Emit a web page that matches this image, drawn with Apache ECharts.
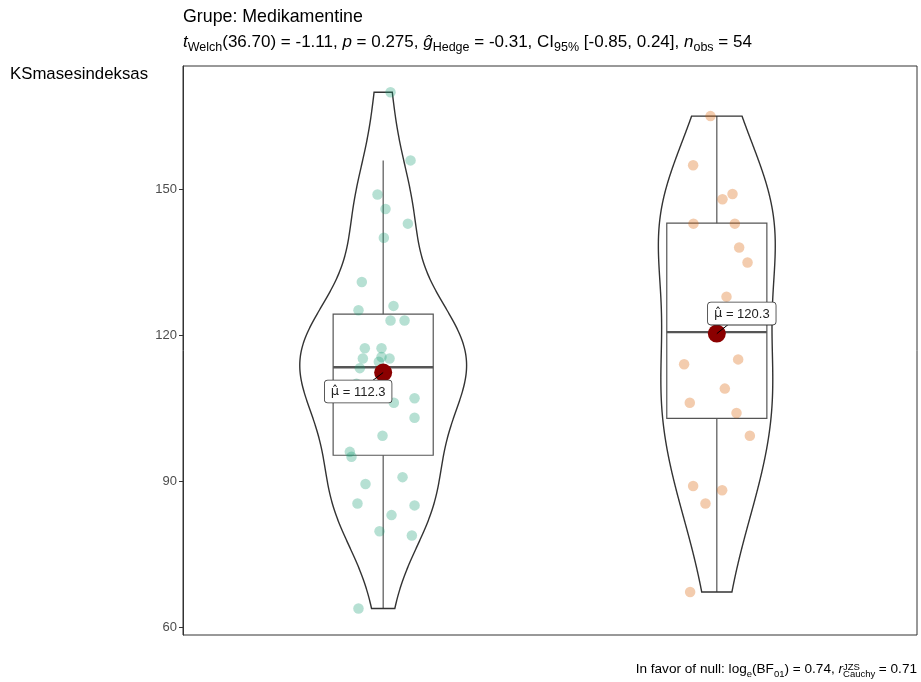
<!DOCTYPE html>
<html>
<head>
<meta charset="utf-8">
<script src="https://cdn.jsdelivr.net/npm/echarts@6/dist/echarts.min.js"></script>
<style>
html, body { margin: 0; padding: 0; background: #fff; }
#chart { width: 921px; height: 682px; }
</style>
</head>
<body>
<div id="chart"></div>
<script>
// group positions on the (unlabelled) x axis
const groupPos = [1, 2];

// group 1 (green): values and horizontal jitter
const g1Values = [169.9, 155.9, 148.9, 145.9, 142.9, 140.0, 130.9, 126.0, 125.1, 123.0, 123.0,
  117.3, 117.3, 115.5, 115.2, 115.2, 114.5, 113.2, 110.0, 108.8, 107.0, 106.1, 103.0, 99.3,
  96.0, 95.0, 90.8, 89.4, 85.4, 85.0, 83.0, 79.7, 78.8, 63.8];
const g1Jitter = [0.022, 0.082, -0.017, 0.007, 0.074, 0.002, -0.064, 0.031, -0.074, 0.022, 0.064,
  -0.055, -0.005, -0.005, -0.061, 0.019, -0.013, -0.070, -0.080, -0.040, 0.094, 0.032, 0.094, -0.002,
  -0.100, -0.095, 0.058, -0.053, -0.077, 0.094, 0.025, -0.011, 0.086, -0.074];

// group 2 (orange)
const g2Values = [165.0, 154.9, 149.0, 147.9, 142.9, 142.9, 138.0, 134.9, 127.9, 125.0,
  115.0, 114.0, 109.0, 106.1, 104.0, 99.3, 89.0, 88.1, 85.4, 67.2];
const g2Jitter = [-0.019, -0.071, 0.047, 0.017, -0.070, 0.054, 0.067, 0.092, 0.029, 0.084,
  0.064, -0.098, 0.024, -0.081, 0.059, 0.099, -0.071, 0.016, -0.034, -0.080];

// box stats: [lower whisker, Q1, median, Q3, upper whisker]
const boxStats = [
  [63.8, 95.3, 113.4, 124.3, 155.9],
  [67.2, 102.9, 120.6, 143.0, 165.0]
];
const means = [112.3, 120.3];
const yTicks = [60, 90, 120, 150];

const FONT = 'Liberation Sans, Arial, sans-serif';
const pointColors = ['rgba(27,158,119,0.4)', 'rgba(217,95,2,0.4)'];

// 小提琴密度 (gaussian, bw.nrd0, trimmed)
function quantile(s, p) {
  const h = (s.length - 1) * p, lo = Math.floor(h);
  const hi = Math.min(lo + 1, s.length - 1);
  return s[lo] + (h - lo) * (s[hi] - s[lo]);
}
function kde(vals) {
  const s = vals.slice().sort((a, b) => a - b), n = s.length;
  const mean = s.reduce((a, b) => a + b, 0) / n;
  const sd = Math.sqrt(s.reduce((a, b) => a + (b - mean) * (b - mean), 0) / (n - 1));
  const iqr = quantile(s, 0.75) - quantile(s, 0.25);
  const bw = 0.9 * Math.min(sd, iqr / 1.34) * Math.pow(n, -0.2);
  const ys = [], ds = [];
  for (let k = 0; k < 512; k++) {
    const y = s[0] + (s[n - 1] - s[0]) * k / 511;
    let d = 0;
    for (const v of s) { const z = (y - v) / bw; d += Math.exp(-0.5 * z * z); }
    ys.push(y);
    ds.push(d / (n * bw * Math.sqrt(2 * Math.PI)));
  }
  return { ys, ds };
}
const dens = [kde(g1Values), kde(g2Values)];
const maxDens = Math.max(...dens.map(d => Math.max(...d.ds)));

const myChart = echarts.init(document.getElementById('chart'));

const capN = { fontSize: 13.6, fontFamily: FONT, fill: '#000', lineHeight: 20 };

const option = {
  animation: false,
  grid: {
    left: 183, right: 4, top: 66, bottom: 47,
    show: true, borderColor: '#333', borderWidth: 1, backgroundColor: 'transparent'
  },
  xAxis: {
    type: 'value', min: 0.4, max: 2.6,
    axisLine: { show: false }, axisTick: { show: false },
    axisLabel: { show: false }, splitLine: { show: false }
  },
  yAxis: {
    type: 'value', min: 58.36, max: 175.3,
    axisLine: { show: true, lineStyle: { color: '#333', width: 1 } },
    axisTick: { show: true, customValues: yTicks, length: 4, lineStyle: { color: '#333' } },
    axisLabel: { customValues: yTicks, color: '#4d4d4d', fontSize: 13, fontFamily: FONT, margin: 6 },
    splitLine: { show: false }
  },
  graphic: [
    { type: 'text', left: 183, top: 8,
      style: { text: 'Grupe: Medikamentine', font: '17.8px ' + FONT, fill: '#000' } },
    { type: 'text', left: 183, top: 34,
      style: {
        text: '{i|t}{s|Welch}{n|(36.70) = -1.11, }{i|p}{n| = 0.275, }{i|ĝ}{s|Hedge}{n| = -0.31, CI}{s|95%}{n| [-0.85, 0.24], }{i|n}{s|obs}{n| = 54}',
        rich: {
          n: { fontSize: 17, fontFamily: FONT, fill: '#000', lineHeight: 24 },
          i: { fontSize: 17, fontFamily: FONT, fontStyle: 'italic', fill: '#000', lineHeight: 24 },
          s: { fontSize: 12.5, fontFamily: FONT, fill: '#000', lineHeight: 13, verticalAlign: 'bottom' }
        }
      } },
    { type: 'text', left: 10, top: 66,
      style: { text: 'KSmasesindeksas', font: '16.8px ' + FONT, fill: '#000' } },
    { type: 'text', right: 4, top: 662,
      style: {
        text: '{n|In favor of null: log}{s|e}{n|(BF}{s|01}{n|) = 0.74, }{i|r}{c|Cauchy}{n| = 0.71}',
        rich: {
          n: capN,
          i: Object.assign({}, capN, { fontStyle: 'italic' }),
          s: { fontSize: 9.5, fontFamily: FONT, fill: '#000', lineHeight: 10, verticalAlign: 'bottom' },
          c: { fontSize: 9.5, fontFamily: FONT, fill: '#000', lineHeight: 10, verticalAlign: 'bottom', width: 32, align: 'left' }
        }
      } },
    { type: 'text', right: 4, top: 662,
      style: {
        text: '{j|JZS}{h| = 0.71}',
        rich: {
          j: { fontSize: 9.5, fontFamily: FONT, fill: '#000', lineHeight: 10, verticalAlign: 'top', width: 32, align: 'left' },
          h: Object.assign({}, capN, { fill: 'rgba(0,0,0,0)' })
        }
      } }
  ],
  series: [
    {
      type: 'scatter',
      silent: true,
      symbolSize: 10.5,
      data: g1Values.map((v, k) => [groupPos[0] + g1Jitter[k], v]),
      itemStyle: { color: pointColors[0] }
    },
    {
      type: 'scatter',
      silent: true,
      symbolSize: 10.5,
      data: g2Values.map((v, k) => [groupPos[1] + g2Jitter[k], v]),
      itemStyle: { color: pointColors[1] }
    },
    {
      // 箱线图
      type: 'custom',
      silent: true,
      data: boxStats.map((s, i) => [groupPos[i], s[2]]),
      renderItem: function (params, api) {
        const i = params.dataIndex, s = boxStats[i], c = groupPos[i];
        const p = (x, y) => api.coord([x, y]);
        const tl = p(c - 0.15, s[3]), br = p(c + 0.15, s[1]);
        const ml = p(c - 0.15, s[2]), mr = p(c + 0.15, s[2]);
        const st = { stroke: '#555', lineWidth: 1.2, fill: 'none' };
        return {
          type: 'group',
          children: [
            { type: 'line', shape: { x1: p(c, s[3])[0], y1: p(c, s[3])[1], x2: p(c, s[4])[0], y2: p(c, s[4])[1] }, style: st },
            { type: 'line', shape: { x1: p(c, s[1])[0], y1: p(c, s[1])[1], x2: p(c, s[0])[0], y2: p(c, s[0])[1] }, style: st },
            { type: 'rect', shape: { x: tl[0], y: tl[1], width: br[0] - tl[0], height: br[1] - tl[1] }, style: st },
            { type: 'line', shape: { x1: ml[0], y1: ml[1], x2: mr[0], y2: mr[1] }, style: { stroke: '#555', lineWidth: 2.4 } }
          ]
        };
      }
    },
    {
      // 小提琴
      type: 'custom',
      silent: true,
      data: groupPos.map((c, i) => [c, means[i]]),
      renderItem: function (params, api) {
        const i = params.dataIndex, c = groupPos[i], d = dens[i];
        const left = [], right = [];
        for (let k = 0; k < d.ys.length; k++) {
          const w = 0.25 * d.ds[k] / maxDens;
          left.push(api.coord([c - w, d.ys[k]]));
          right.push(api.coord([c + w, d.ys[k]]));
        }
        const pts = left.concat(right.reverse());
        return {
          type: 'polygon',
          shape: { points: pts },
          style: { fill: 'none', stroke: '#333', lineWidth: 1.4 }
        };
      }
    },
    {
      // 均值点和标签
      type: 'custom',
      silent: true,
      z: 5,
      data: groupPos.map((c, i) => [c, means[i]]),
      renderItem: function (params, api) {
        const i = params.dataIndex;
        const pt = api.coord([groupPos[i], means[i]]);
        const off = i === 0 ? [-25, 19] : [25, -20];
        const lc = [pt[0] + off[0], pt[1] + off[1]];
        return {
          type: 'group',
          children: [
            { type: 'circle', shape: { cx: pt[0], cy: pt[1], r: 9 }, style: { fill: '#8B0000' } },
            { type: 'line', shape: { x1: pt[0], y1: pt[1], x2: lc[0], y2: lc[1] }, style: { stroke: '#000', lineWidth: 1 } },
            {
              type: 'text',
              x: lc[0], y: lc[1],
              style: {
                text: '{m|μ̂}{v| = ' + means[i].toFixed(1) + '}',
                rich: {
                  m: { fontSize: 13, fontFamily: 'DejaVu Sans', fill: '#222' },
                  v: { fontSize: 13, fontFamily: FONT, fill: '#222' }
                },
                align: 'center', verticalAlign: 'middle',
                backgroundColor: '#fff', borderColor: '#333', borderWidth: 0.8,
                borderRadius: 3, padding: [5, 6, 4, 6]
              }
            }
          ]
        };
      }
    }
  ]
};

myChart.setOption(option);
</script>
</body>
</html>
